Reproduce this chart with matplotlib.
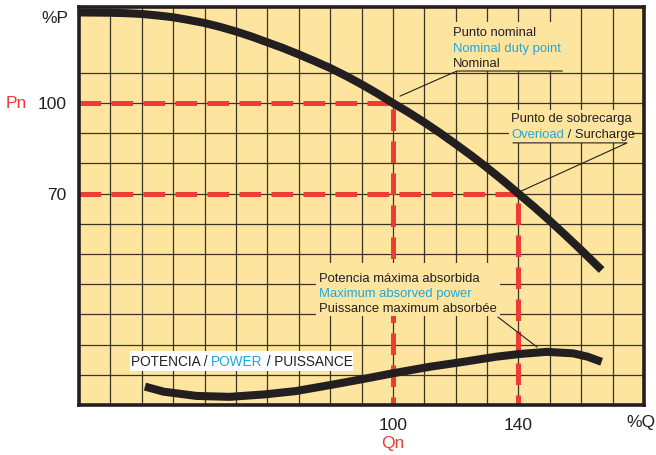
import numpy as np
import matplotlib
matplotlib.use("Agg")
import matplotlib.pyplot as plt
from matplotlib.patches import Rectangle

# pump curve (Q in %, P in %)
q_head = [0, 10, 15, 20, 25, 30, 35, 40, 45, 50, 55, 60, 65, 70, 75, 80, 85, 90, 95, 100,
          105, 110, 115, 120, 125, 130, 135, 140, 145, 150, 155, 160, 166.5]
p_head = [130.0, 129.9, 129.75, 129.5, 129.0, 128.4, 127.5, 126.5, 125.2, 123.7, 122.0,
          120.1, 118.2, 116.1, 113.9, 111.6, 109.0, 106.2, 103.2, 100.0,
          96.9, 93.6, 90.1, 86.4, 82.6, 78.6, 74.4, 70.0, 65.6, 61.0, 56.2, 51.3, 44.7]

q_power = [21, 27, 37.5, 48, 59, 69, 80, 90.5, 100, 112, 122.5, 133, 140.5, 149, 157.5,
           162, 166.5]
p_power = [6.1, 4.4, 3.0, 2.7, 3.5, 4.6, 6.6, 8.6, 10.5, 12.7, 14.3, 16.0, 16.9, 17.6, 17.1,
           16.0, 14.3]

q_nominal, p_nominal = 100, 100
q_overload, p_overload = 140, 70

x_ticks = [100, 140]
x_ticklabels = ["100", "140"]
y_ticks = [70, 100]
y_ticklabels = ["70", "100"]

FILL = "#fee59f"
GRID = "#3b3324"
INK = "#231f20"
RED = "#ee3b34"
CYAN = "#1ba8e0"

plt.rcParams["font.family"] = ["Liberation Sans", "DejaVu Sans"]

fig = plt.figure(figsize=(6.56, 4.55), dpi=100)
ax = fig.add_axes([79 / 656, 1 - 405 / 455, 565 / 656, 398 / 455])
ax.set_facecolor(FILL)
ax.set_xlim(0, 180)
ax.set_ylim(0, 131.8)

# grid every 10 %
ax.set_xticks(np.arange(10, 180, 10), minor=True)
ax.set_yticks(np.arange(10, 120, 10), minor=True)
ax.set_xticks(x_ticks, x_ticklabels)
ax.set_yticks(y_ticks, y_ticklabels)
ax.set_axisbelow(True)
ax.grid(which="both", color=GRID, linewidth=0.9)
ax.tick_params(which="both", length=0, labelsize=12.5, colors=INK)
ax.tick_params(axis="x", pad=9)
ax.tick_params(axis="y", pad=9)
for s in ax.spines.values():
    s.set_linewidth(2.6)
    s.set_color(INK)

# red guide lines for nominal and overload points
dash = (0, (4.3, 2.1))
ax.plot([0, q_nominal, q_nominal], [p_nominal, p_nominal, 0], color=RED, lw=3.6,
        linestyle=dash, dash_capstyle="butt", zorder=2)
ax.plot([0, q_overload, q_overload], [p_overload, p_overload, 0], color=RED, lw=3.6,
        linestyle=dash, dash_capstyle="butt", zorder=2)

# curves
ax.plot(q_head, p_head, color=INK, lw=5.8, solid_capstyle="butt",
        solid_joinstyle="round", zorder=4)
ax.plot(q_power, p_power, color=INK, lw=5.8, solid_capstyle="butt",
        solid_joinstyle="round", zorder=4)


def note_box(x0, x1, y0, y1, color=FILL):
    ax.add_patch(Rectangle((x0, y0), x1 - x0, y1 - y0, facecolor=color,
                           edgecolor="none", zorder=3))


def colored_line(x, y, parts, size=9.4):
    t = ax.text(x, y, parts[0][0], color=parts[0][1], fontsize=size,
                ha="left", va="center", zorder=6)
    for txt, col in parts[1:]:
        t = ax.annotate(txt, xy=(1, 0), xycoords=t, color=col, fontsize=size,
                        ha="left", va="bottom", zorder=6)


# nominal point note
note_box(118.2, 155, 110.6, 126.8)
colored_line(119.2, 123.2, [("Punto nominal", INK)])
colored_line(119.2, 117.9, [("Nominal duty point", CYAN)])
colored_line(119.2, 113.0, [("Nominal", INK)])
ax.plot([153.9, 120.4, 102.3], [110.6, 110.6, 102.3], color=INK, lw=0.8, zorder=5)

# overload point note
note_box(137.0, 176.2, 86.8, 97.7)
colored_line(137.6, 94.8, [("Punto de sobrecarga", INK)])
colored_line(137.6, 89.5, [("Overioad", CYAN), (" / Surcharge", INK)])
ax.plot([138.3, 174.6, 141.0], [86.8, 86.8, 70.9], color=INK, lw=0.8, zorder=5)

# maximum power note
note_box(75.5, 134.1, 29.5, 47.0)
colored_line(76.5, 41.8, [("Potencia máxima absorbida", INK)])
colored_line(76.5, 36.8, [("Maximum absorved power", CYAN)])
colored_line(76.5, 31.9, [("Puissance maximum absorbée", INK)])
ax.plot([133.5, 145.9], [29.1, 19.2], color=INK, lw=0.8, zorder=5)

# power curve label
note_box(16.2, 87.3, 11.3, 17.9, color="white")
colored_line(16.5, 14.1, [("POTENCIA / ", INK), ("POWER", CYAN), (" / PUISSANCE", INK)],
             size=9.8)

# axis captions
ax.text(-16.6, 100, "Pn", color=RED, fontsize=12.5, ha="right", va="center", clip_on=False)
ax.text(-3.5, 128.1, "%P", color=INK, fontsize=12.5, ha="right", va="center", clip_on=False)
ax.text(183.5, -5.7, "%Q", color=INK, fontsize=12.5, ha="right", va="center", clip_on=False)
ax.text(q_nominal, -12.7, "Qn", color=RED, fontsize=12.5, ha="center", va="center",
        clip_on=False)

fig.savefig("out.png", dpi=100)
